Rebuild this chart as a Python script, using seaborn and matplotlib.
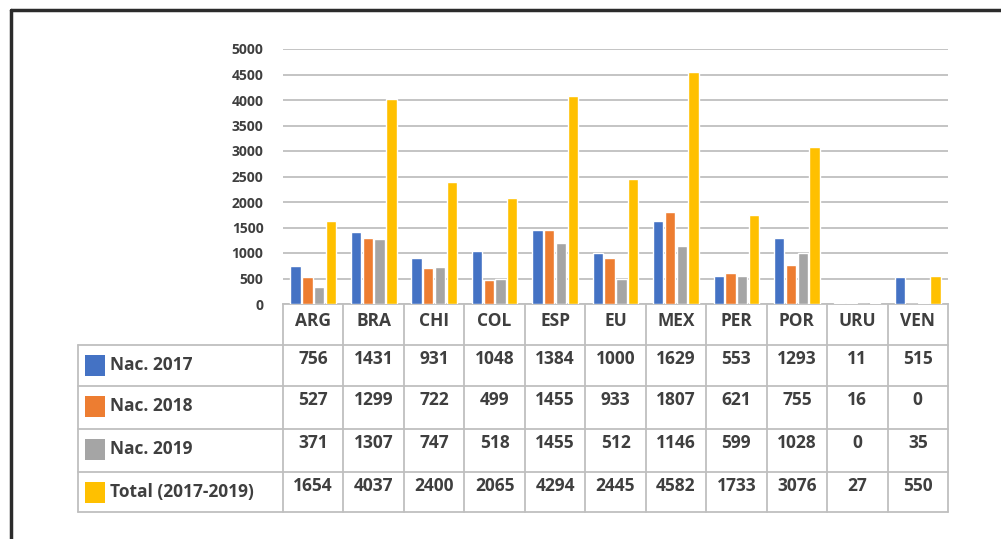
import numpy as np
import pandas as pd
import matplotlib
matplotlib.use("Agg")
import matplotlib.pyplot as plt
import seaborn as sns
from matplotlib.transforms import blended_transform_factory
from matplotlib.lines import Line2D
from matplotlib.patches import Rectangle

# ---------------- data ----------------
categories = ["ARG", "BRA", "CHI", "COL", "ESP", "EU", "MEX", "PER", "POR", "URU", "VEN"]
series = ["Nac. 2017", "Nac. 2018", "Nac. 2019", "Total (2017-2019)"]

# values printed in the data table
table_2017 = [756, 1431, 931, 1048, 1384, 1000, 1629, 553, 1293, 11, 515]
table_2018 = [527, 1299, 722, 499, 1455, 933, 1807, 621, 755, 16, 0]
table_2019 = [371, 1307, 747, 518, 1455, 512, 1146, 599, 1028, 0, 35]
table_total = [1654, 4037, 2400, 2065, 4294, 2445, 4582, 1733, 3076, 27, 550]

# bar heights as drawn in the chart
bars_2017 = [745, 1405, 910, 1035, 1455, 1005, 1625, 540, 1285, 11, 520]
bars_2018 = [525, 1285, 712, 480, 1445, 910, 1795, 612, 755, 16, 0]
bars_2019 = [330, 1272, 720, 488, 1190, 495, 1138, 540, 1008, 0, 20]
bars_total = [1630, 4025, 2395, 2075, 4085, 2447, 4555, 1738, 3080, 27, 540]

colors = ["#4472C4", "#ED7D31", "#A5A5A5", "#FFC000"]
yticks = [0, 500, 1000, 1500, 2000, 2500, 3000, 3500, 4000, 4500, 5000]

df = pd.DataFrame({
    "cat": categories * 4,
    "series": sum([[s] * len(categories) for s in series], []),
    "value": bars_2017 + bars_2018 + bars_2019 + bars_total,
})
table_rows = [table_2017, table_2018, table_2019, table_total]

# ---------------- figure ----------------
W, H = 1001, 539
sns.set_theme(style="white")
plt.rcParams["font.family"] = ["Open Sans", "DejaVu Sans"]
fig = plt.figure(figsize=(W / 100, H / 100), dpi=100)
fig.patch.set_facecolor("white")

def fx(px):
    return px / W

def fy(py):
    return 1 - py / H

ax_left, ax_right, ax_top, ax_bot = 283, 948, 49, 304
ax = fig.add_axes([fx(ax_left), fy(ax_bot), fx(ax_right - ax_left), fy(ax_top) - fy(ax_bot)])

sns.barplot(data=df, x="cat", y="value", hue="series", palette=colors,
            width=0.78, gap=0.12, saturation=1, legend=False, ax=ax, zorder=3)

ax.set_xlim(-0.5, len(categories) - 0.5)
ax.set_ylim(0, 5000)
ax.set_yticks(yticks)
ax.set_yticklabels([str(t) for t in yticks], fontsize=10, fontweight="bold", color="#3f3f3f")
ax.yaxis.grid(True, color="#BFBFBF", lw=1.3, zorder=0)
ax.set_axisbelow(True)
ax.tick_params(axis="y", length=0, pad=14)
ax.set_xlabel("")
ax.set_ylabel("")
for s in ["left", "right", "top"]:
    ax.spines[s].set_visible(False)
ax.spines["bottom"].set_color("#BFBFBF")
ax.spines["bottom"].set_linewidth(1.3)

# category labels as x tick labels (header row of table)
ax.set_xticks(range(len(categories)))
ax.set_xticklabels(categories, fontsize=12.5, fontweight="bold", color="#3f3f3f")
ax.tick_params(axis="x", length=0, pad=6)

# ---------------- data table ----------------
tr = blended_transform_factory(ax.transData, fig.transFigure)
col_w = (ax_right - ax_left) / len(categories)
label_left = -0.5 - (ax_left - 78) / col_w
row_lines = [345, 386, 429, 472, 512]
line_kw = dict(color="#BFBFBF", lw=1.3, transform=tr, clip_on=False)

for py in row_lines:
    fig.add_artist(Line2D([label_left, len(categories) - 0.5], [fy(py), fy(py)], **line_kw))
for i in range(len(categories) + 1):
    xb = i - 0.5
    fig.add_artist(Line2D([xb, xb], [fy(ax_bot), fy(row_lines[-1])], **line_kw))
fig.add_artist(Line2D([label_left, label_left], [fy(row_lines[0]), fy(row_lines[-1])], **line_kw))

for r, (name, vals, c) in enumerate(zip(series, table_rows, colors)):
    top = row_lines[r]
    # legend key
    fig.add_artist(Rectangle((fx(85), fy(top + 10 + 21)), fx(20), fy(top + 10) - fy(top + 31),
                             facecolor=c, edgecolor="none", transform=fig.transFigure))
    fig.text(fx(110), fy(top + 20), name, fontsize=12.5, fontweight="bold", color="#3f3f3f",
             ha="left", va="center")
    for i, v in enumerate(vals):
        fig.text(i, fy(top + 14), str(v), fontsize=12.5, fontweight="bold", color="#3f3f3f",
                 ha="center", va="center", transform=tr)

# outer frame (top and left edges)
frame_kw = dict(color="#2b2b2b", lw=2.5, transform=fig.transFigure)
fig.add_artist(Line2D([fx(11), 1.0], [fy(10), fy(10)], **frame_kw))
fig.add_artist(Line2D([fx(11), fx(11)], [fy(10), 0.0], **frame_kw))

fig.savefig("out.png", dpi=100, facecolor="white")
